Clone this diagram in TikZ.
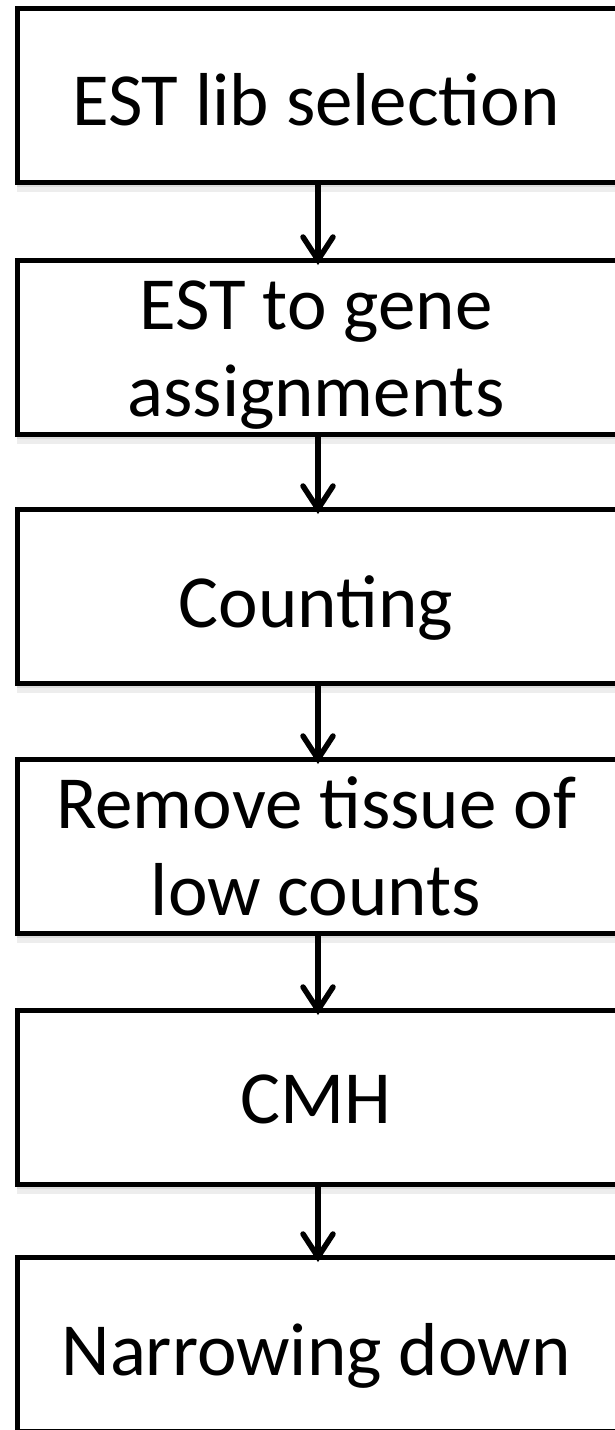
\documentclass[tikz,border=0pt]{standalone}
\usepackage{fontspec}
\setmainfont{Carlito}
\begin{document}
\begin{tikzpicture}[x=1pt,y=-1pt,
  stepbox/.style={draw=black,line width=5pt,fill=white,minimum width=610pt,minimum height=174pt,inner sep=0pt,anchor=north west},
  shade/.style={fill=black,opacity=0.07},
  lbl/.style={font=\fontsize{75}{87}\selectfont,anchor=base,inner sep=0pt},
  conn/.style={line width=5.5pt},
  head/.style={line width=5.5pt,line cap=round,line join=miter}]
\useasboundingbox (0,0) rectangle (614,1430);
\fill[white] (0,0) rectangle (614,1430);
% box shadows
\foreach \t in {5.5,258,507,757,1008,1255}{
  \fill[shade] (17,\t+176) rectangle (625,\t+186);
  \fill[shade] (17,\t+176) rectangle (625,\t+181);
}
\node[stepbox] (b1) at (15,5.5) {};
\node[stepbox] (b2) at (15,258) {};
\node[stepbox] (b3) at (15,507) {};
\node[stepbox] (b4) at (15,757) {};
\node[stepbox] (b5) at (15,1008) {};
\node[stepbox] (b6) at (15,1255) {};
\node[lbl] (t1) at (316,125) {EST lib selection};
\node[lbl] (t2a) at (316,329) {EST to gene};
\node[lbl] (t2b) at (316,416) {assignments};
\node[lbl] (t3) at (316,627) {Counting};
\node[lbl] (t4a) at (316,828) {Remove tissue of};
\node[lbl] (t4b) at (316,915) {low counts};
\node[lbl] (t5) at (316,1123) {CMH};
\node[lbl] (t6) at (316,1375) {Narrowing down};
\foreach \a/\b in {b1/b2,b2/b3,b3/b4,b4/b5,b5/b6}{
  \coordinate (s\a) at (\a.south -| 318,0);
  \coordinate (e\a) at ([yshift=-2pt]\b.north -| 318,0);
  \draw[conn] (s\a) -- (e\a);
  \draw[head] ([shift={(-15,-23)}]e\a) -- (e\a) -- ([shift={(15,-23)}]e\a);
}
\end{tikzpicture}
\end{document}
